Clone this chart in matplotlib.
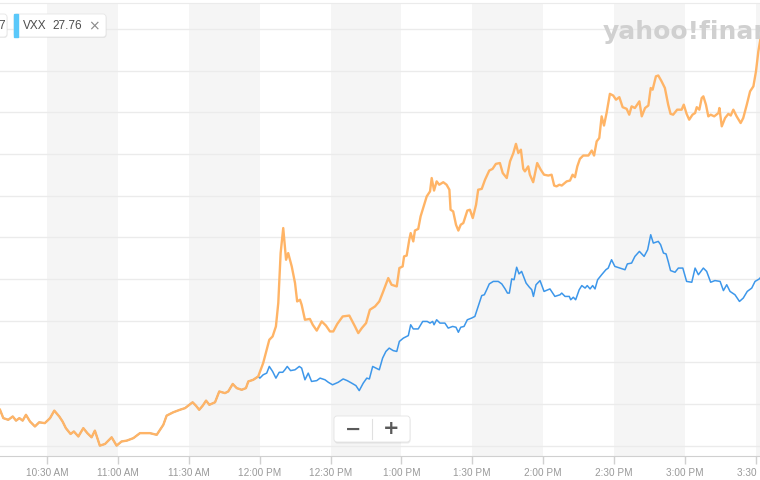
import matplotlib
matplotlib.use("Agg")
import matplotlib.pyplot as plt
from matplotlib.patches import FancyBboxPatch, Rectangle
import numpy as np

# minutes after 10:00 AM, value in % change (shared part: both series overlap)
early_t = [9.9, 11.3, 13.4, 15.3, 16.7, 18.1, 19.5, 20.9, 22.6, 24.7, 26.5, 28.9,
           31.1, 32.9, 35.0, 36.4, 37.8, 39.8, 41.2, 43.1, 45.2, 46.9, 48.7, 50.1,
           52.2, 54.4, 57.2, 59.3, 61.4, 63.6, 66.4, 69.2, 73.4, 76.3, 77.7, 79.1,
           80.5, 81.2, 83.3, 86.1, 88.3, 89.7, 91.5, 92.9, 94.3, 95.8, 97.2, 98.6,
           101.0, 102.8, 105.2, 106.6, 108.5, 110.2, 112.3, 114.1, 115.1, 117.2, 119.3]
early_v = [-0.07, -0.17, -0.19, -0.15, -0.20, -0.17, -0.20, -0.13, -0.21, -0.27, -0.22, -0.23,
           -0.17, -0.08, -0.15, -0.21, -0.29, -0.36, -0.33, -0.39, -0.29, -0.35, -0.40, -0.32,
           -0.50, -0.48, -0.40, -0.50, -0.45, -0.44, -0.41, -0.35, -0.35, -0.37, -0.31, -0.25,
           -0.14, -0.13, -0.10, -0.07, -0.05, -0.02, 0.02, -0.02, -0.07, -0.02, 0.04, -0.01,
           0.02, 0.15, 0.13, 0.15, 0.24, 0.19, 0.17, 0.19, 0.27, 0.29, 0.33]

orange_t = [121.4, 122.9, 124.0, 125.4, 126.8, 127.8, 128.8, 129.9, 131.1, 132.0, 133.5, 134.9,
            135.8, 137.0, 137.7, 139.1, 141.2, 142.4, 144.1, 146.2, 148.0, 149.7, 151.1, 152.8,
            155.1, 157.9, 160.3, 161.7, 163.2, 165.0, 166.6, 168.8, 170.6, 172.0, 174.4, 175.8,
            178.0, 179.1, 180.5, 181.1, 182.2, 183.3, 183.9, 185.0, 185.7, 187.1, 188.1, 189.2,
            190.7, 192.1, 192.8, 193.8, 194.9, 196.0, 197.7, 199.1, 200.3, 200.8, 201.9, 203.1,
            204.1, 205.1, 206.2, 207.9, 209.0, 210.2, 211.6, 212.5, 214.0, 215.4, 217.2, 218.6,
            220.0, 221.7, 222.9, 224.6, 226.0, 227.4, 228.5, 229.5, 230.6, 231.6, 232.3, 233.7,
            234.4, 235.8, 237.5, 239.0, 240.4, 242.2, 243.6, 244.7, 245.7, 246.9, 247.9, 250.0,
            251.4, 252.5, 253.5, 254.5, 255.6, 257.0, 259.2, 260.6, 261.6, 262.7, 263.8, 264.8,
            265.8, 266.9, 268.3, 269.7, 270.9, 272.3, 273.7, 275.4, 276.5, 277.5, 278.9, 280.8,
            281.8, 283.2, 284.6, 285.6, 286.4, 287.8, 288.8, 290.2, 291.6, 293.0, 294.0, 295.1,
            296.8, 298.7, 299.6, 300.8, 301.9, 303.3, 304.4, 305.1, 306.2, 307.2, 307.9, 309.0,
            310.0, 311.0, 312.5, 314.3, 314.7, 315.7, 317.1, 318.5, 319.5, 320.6, 322.0, 323.7,
            324.8, 326.3, 327.7, 329.1, 330.2, 331.2, 332.0, 332.8]
orange_v = [0.49, 0.65, 0.77, 0.81, 0.93, 1.21, 1.81, 2.11, 1.73, 1.81, 1.65, 1.45,
            1.23, 1.25, 1.19, 1.01, 1.02, 0.95, 0.88, 0.99, 0.94, 0.87, 0.87, 0.96,
            1.05, 1.06, 0.93, 0.85, 0.91, 0.97, 1.13, 1.17, 1.23, 1.33, 1.51, 1.43,
            1.41, 1.63, 1.65, 1.77, 1.78, 1.97, 2.05, 1.95, 2.08, 2.10, 2.25, 2.35,
            2.49, 2.55, 2.71, 2.56, 2.67, 2.63, 2.66, 2.63, 2.57, 2.33, 2.31, 2.15,
            2.08, 2.15, 2.17, 2.32, 2.33, 2.23, 2.39, 2.57, 2.58, 2.69, 2.80, 2.82,
            2.88, 2.89, 2.77, 2.71, 2.91, 3.01, 3.12, 3.01, 3.05, 2.82, 2.79, 2.85,
            2.75, 2.66, 2.89, 2.81, 2.75, 2.74, 2.75, 2.62, 2.61, 2.63, 2.62, 2.67,
            2.68, 2.75, 2.72, 2.85, 2.94, 2.98, 2.98, 3.04, 2.98, 3.15, 3.19, 3.45,
            3.34, 3.49, 3.72, 3.70, 3.65, 3.68, 3.56, 3.54, 3.47, 3.57, 3.55, 3.63,
            3.45, 3.55, 3.58, 3.79, 3.77, 3.93, 3.94, 3.87, 3.79, 3.59, 3.48, 3.47,
            3.53, 3.53, 3.59, 3.48, 3.41, 3.47, 3.49, 3.56, 3.53, 3.67, 3.69, 3.59,
            3.45, 3.47, 3.45, 3.49, 3.55, 3.33, 3.43, 3.48, 3.46, 3.53, 3.45, 3.37,
            3.43, 3.59, 3.75, 3.81, 3.99, 4.23, 4.36, 4.50]

blue_t = [120.0, 121.4, 122.9, 124.0, 125.4, 126.8, 128.2, 129.7, 130.6, 131.6, 133.0, 134.9,
          136.7, 137.7, 139.1, 140.5, 141.9, 144.1, 145.5, 147.6, 149.0, 150.8, 153.2, 155.3,
          157.0, 158.9, 160.7, 162.1, 163.8, 165.3, 166.4, 167.8, 169.2, 170.6, 172.0, 173.4,
          174.8, 176.5, 178.0, 179.1, 180.8, 182.9, 183.9, 185.0, 187.1, 189.0, 190.9, 192.1,
          193.2, 193.8, 194.9, 196.3, 198.4, 199.8, 201.7, 203.1, 204.1, 205.1, 206.5, 207.9,
          209.7, 211.1, 212.5, 214.0, 215.1, 216.1, 217.2, 218.9, 221.0, 222.5, 223.9, 224.9,
          225.7, 226.7, 227.7, 228.8, 229.8, 230.9, 232.8, 234.2, 235.2, 235.9, 237.0, 238.7,
          240.4, 242.9, 245.0, 247.2, 247.9, 249.3, 251.1, 251.7, 252.8, 253.8, 255.3, 256.4,
          257.8, 258.7, 259.9, 261.0, 262.0, 263.1, 264.8, 266.6, 267.6, 269.0, 270.4, 272.5,
          274.7, 275.7, 277.5, 278.9, 280.8, 282.8, 284.3, 285.6, 286.7, 288.8, 289.8, 291.0,
          292.1, 293.0, 294.0, 295.9, 297.3, 299.2, 300.8, 303.0, 304.4, 305.8, 307.9, 309.3,
          311.0, 312.8, 315.0, 316.4, 317.8, 319.2, 321.3, 323.2, 324.8, 326.5, 328.4, 329.8,
          331.6, 332.8]
blue_v = [0.31, 0.35, 0.37, 0.45, 0.39, 0.31, 0.38, 0.38, 0.41, 0.45, 0.40, 0.41,
          0.45, 0.43, 0.29, 0.37, 0.27, 0.28, 0.31, 0.29, 0.26, 0.23, 0.26, 0.30,
          0.28, 0.25, 0.22, 0.16, 0.25, 0.31, 0.30, 0.45, 0.43, 0.41, 0.55, 0.63,
          0.67, 0.64, 0.63, 0.75, 0.79, 0.82, 0.95, 0.90, 0.90, 0.99, 0.99, 0.97,
          0.99, 0.95, 1.01, 0.97, 0.97, 0.91, 0.93, 0.92, 0.86, 0.92, 0.93, 1.01,
          1.03, 1.05, 1.17, 1.30, 1.31, 1.37, 1.44, 1.47, 1.47, 1.44, 1.38, 1.33,
          1.33, 1.50, 1.49, 1.64, 1.56, 1.59, 1.45, 1.40, 1.37, 1.29, 1.43, 1.48,
          1.35, 1.38, 1.29, 1.31, 1.33, 1.29, 1.29, 1.25, 1.28, 1.25, 1.37, 1.42,
          1.39, 1.42, 1.38, 1.42, 1.38, 1.49, 1.55, 1.61, 1.63, 1.73, 1.65, 1.63,
          1.61, 1.68, 1.69, 1.77, 1.83, 1.77, 1.85, 2.03, 1.93, 1.95, 1.91, 1.81,
          1.80, 1.71, 1.60, 1.58, 1.63, 1.63, 1.47, 1.46, 1.63, 1.55, 1.63, 1.59,
          1.46, 1.48, 1.47, 1.36, 1.43, 1.35, 1.31, 1.23, 1.27, 1.35, 1.39, 1.47,
          1.50, 1.54]

tick_t = [30, 60, 90, 120, 150, 180, 210, 240, 270, 300, 330]
tick_labels = ["10:30 AM", "11:00 AM", "11:30 AM", "12:00 PM", "12:30 PM", "1:00 PM",
               "1:30 PM", "2:00 PM", "2:30 PM", "3:00 PM", "3:30 PM"]

ORANGE = "#ffb466"
BLUE = "#3d97ea"

fig = plt.figure(figsize=(7.6, 4.8), dpi=100)
fig.patch.set_facecolor("white")
ax = fig.add_axes([0, 0.049, 1, 0.9448])
ax.set_facecolor("white")

# alternating half-hour bands
for start in tick_t[::2]:
    ax.axvspan(start, start + 30, color="#f5f5f5", lw=0, zorder=0)

ax.set_xlim(9.9, 331.9)
ax.set_ylim(-0.63, 4.81)
ax.set_yticks(np.arange(-0.5, 4.6, 0.5))
ax.yaxis.grid(True, color="#ebebeb", lw=1, zorder=1)
ax.tick_params(axis="y", length=0, labelleft=False)

ax.set_xticks(tick_t)
ax.set_xticklabels(tick_labels, family="Liberation Sans")
ax.tick_params(axis="x", length=6, width=1, color="#d0d0d0", labelcolor="#999999",
               labelsize=7.2, pad=2.5)

for side in ["left", "right"]:
    ax.spines[side].set_visible(False)
ax.spines["top"].set_color("#ebebeb")
ax.spines["bottom"].set_color("#d0d0d0")

blue_x = early_t + blue_t
blue_y = early_v + blue_v
orange_x = early_t + orange_t
orange_y = early_v + orange_v
ax.plot(blue_x, blue_y, color=BLUE, lw=1.1, zorder=3)
ax.plot(orange_x, orange_y, color=ORANGE, lw=1.7, zorder=4, solid_joinstyle="round")

# overlay in pixel coords for legend chips, logo and zoom buttons
ov = fig.add_axes([0, 0, 1, 1])
ov.set_xlim(0, 760)
ov.set_ylim(480, 0)
ov.axis("off")

ov.text(603, 39, "yahoo!finance", fontsize=18, fontweight="bold", color="#d0d0d0",
        va="baseline", ha="left", zorder=2)


def chip(x0, w):
    ov.add_patch(FancyBboxPatch((x0 + 0.5, 15), w, 23, boxstyle="round,pad=0,rounding_size=3",
                                fc="#00000012", ec="none", zorder=4))
    ov.add_patch(FancyBboxPatch((x0, 14), w, 23, boxstyle="round,pad=0,rounding_size=3",
                                fc="white", ec="#e6e6e6", lw=0.6, zorder=5))


chip(-80, 87)
ov.text(4.5, 26, "7", fontsize=8.5, color="#4d4d4d", ha="right", va="center",
        family="Liberation Sans", zorder=6)
chip(14, 92)
ov.add_patch(Rectangle((14, 14), 3.5, 23, color="#5ac8fa", zorder=6))
ov.text(23, 26, "VXX", fontsize=8.5, color="#4d4d4d", ha="left", va="center",
        family="Liberation Sans", zorder=6)
ov.text(52, 26, "27.76", fontsize=8.5, color="#4d4d4d", ha="left", va="center",
        family="Liberation Sans", zorder=6)
ov.text(94, 26, "\u00d7", fontsize=10, color="#8a8a8a", ha="center", va="center", zorder=6)

# zoom buttons
ov.add_patch(FancyBboxPatch((334.5, 417.5), 76, 26, boxstyle="round,pad=0,rounding_size=3",
                            fc="#00000014", ec="none", zorder=4))
ov.add_patch(FancyBboxPatch((334, 416), 76, 26, boxstyle="round,pad=0,rounding_size=3",
                            fc="white", ec="#e3e3e3", lw=0.6, zorder=5))
ov.plot([372, 372], [419, 439], color="#e0e0e0", lw=0.8, zorder=6)
ov.text(353, 429, "\u2212", fontsize=14, fontweight="bold", color="#5a5a5a",
        ha="center", va="center", zorder=6)
ov.text(391, 429, "+", fontsize=14, fontweight="bold", color="#5a5a5a",
        ha="center", va="center", zorder=6)

plt.savefig("out.png", dpi=100, facecolor="white")
